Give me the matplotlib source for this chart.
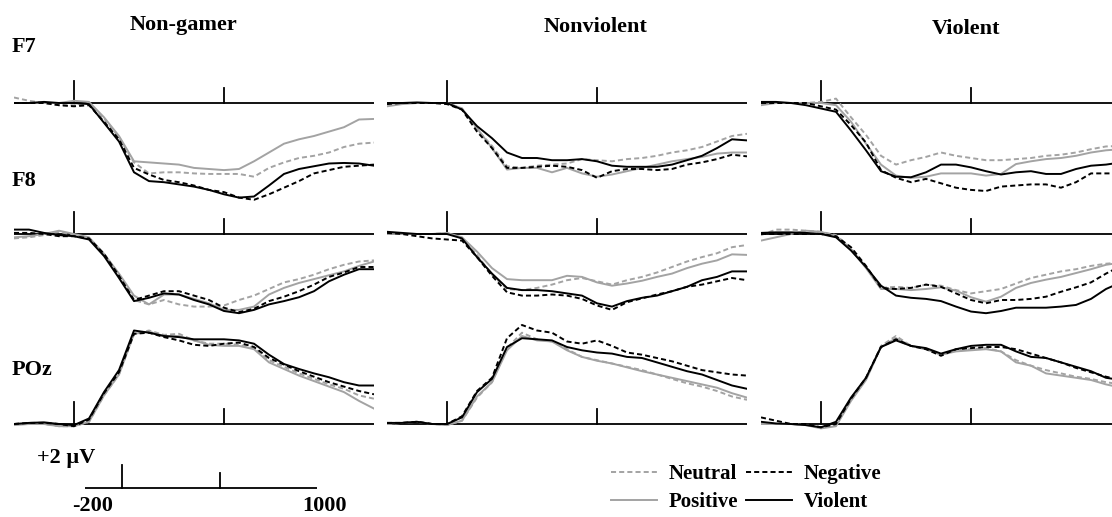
import matplotlib
matplotlib.use("Agg")
import matplotlib.pyplot as plt
from matplotlib.lines import Line2D

W, H = 1112, 517

# time axis (ms), sampled every 50 ms
times = list(range(-200, 1001, 50))

# amplitudes in microvolts
f7_nongamer_neutral = [0.5, 0.2, 0.0, -0.2, -0.2, 0.0, -1.4, -3.1, -5.4, -6.4, -6.3, -6.3, -6.4, -6.45, -6.45, -6.45, -6.7, -5.9, -5.4, -5.0, -4.8, -4.5, -4.0, -3.7, -3.6]
f7_nongamer_negative = [0.0, 0.0, 0.0, -0.2, -0.3, -0.2, -1.7, -3.3, -5.9, -6.5, -7.0, -7.2, -7.5, -7.9, -8.1, -8.6, -8.8, -8.3, -7.7, -7.1, -6.4, -6.1, -5.8, -5.7, -5.6]
f7_nongamer_positive = [0.0, 0.0, 0.0, 0.0, 0.2, 0.1, -1.3, -3.0, -5.3, -5.4, -5.5, -5.6, -5.9, -6.0, -6.1, -6.0, -5.3, -4.5, -3.7, -3.3, -3.0, -2.6, -2.2, -1.5, -1.45]
f7_nongamer_violent = [0.0, 0.0, 0.1, 0.0, 0.0, -0.1, -1.8, -3.5, -6.3, -7.1, -7.2, -7.4, -7.6, -7.9, -8.3, -8.6, -8.5, -7.5, -6.45, -6.0, -5.75, -5.5, -5.45, -5.5, -5.7]

f8_nongamer_neutral = [-0.4, -0.3, -0.1, 0.2, -0.1, -0.4, -1.8, -3.7, -6.0, -6.4, -6.0, -6.4, -6.6, -6.6, -6.5, -6.0, -5.6, -5.0, -4.4, -4.1, -3.7, -3.2, -2.8, -2.5, -2.4]
f8_nongamer_negative = [0.1, 0.1, 0.0, -0.2, -0.2, -0.4, -1.8, -3.8, -6.0, -5.6, -5.2, -5.2, -5.6, -6.0, -6.7, -7.1, -6.8, -6.1, -5.7, -5.2, -4.6, -3.9, -3.5, -3.0, -3.0]
f8_nongamer_positive = [-0.3, -0.2, 0.0, 0.3, 0.0, -0.3, -1.8, -3.6, -5.6, -6.4, -5.5, -5.5, -5.9, -6.3, -6.9, -6.9, -6.6, -5.5, -4.9, -4.45, -4.1, -3.75, -3.4, -2.9, -2.5]
f8_nongamer_violent = [0.4, 0.4, 0.1, -0.1, -0.2, -0.5, -2.0, -4.0, -6.1, -5.8, -5.4, -5.5, -6.0, -6.4, -7.0, -7.2, -6.9, -6.4, -6.1, -5.75, -5.2, -4.3, -3.7, -3.2, -3.2]

poz_nongamer_neutral = [0.0, 0.0, 0.0, -0.2, -0.2, 0.2, 2.6, 4.5, 8.2, 8.5, 8.1, 8.2, 7.6, 7.3, 7.3, 7.2, 6.9, 5.8, 5.2, 4.6, 4.1, 3.6, 3.2, 2.6, 2.3]
poz_nongamer_negative = [0.0, 0.1, 0.1, 0.0, -0.2, 0.4, 2.8, 4.7, 8.2, 8.3, 7.9, 7.6, 7.2, 7.1, 7.3, 7.4, 7.0, 6.0, 5.4, 4.8, 4.3, 3.8, 3.4, 3.0, 2.7]
poz_nongamer_positive = [-0.1, 0.0, 0.0, -0.2, -0.2, 0.2, 2.6, 4.5, 8.2, 8.4, 8.0, 8.0, 7.6, 7.2, 7.1, 7.1, 6.8, 5.6, 5.0, 4.4, 3.9, 3.4, 2.9, 2.1, 1.4]
poz_nongamer_violent = [0.0, 0.1, 0.15, 0.0, -0.1, 0.5, 2.9, 4.9, 8.5, 8.3, 8.0, 7.9, 7.7, 7.7, 7.7, 7.6, 7.3, 6.3, 5.45, 5.0, 4.6, 4.25, 3.8, 3.5, 3.5]

f7_nonviolent_neutral = [0.0, 0.0, 0.0, 0.0, 0.0, -0.5, -2.4, -3.9, -5.75, -5.9, -5.7, -5.6, -5.5, -5.1, -5.2, -5.3, -5.1, -5.0, -4.8, -4.5, -4.3, -4.0, -3.5, -3.0, -2.8]
f7_nonviolent_negative = [-0.1, 0.0, 0.0, 0.0, -0.1, -0.6, -2.6, -4.1, -5.9, -5.9, -5.8, -5.7, -5.8, -6.1, -6.8, -6.2, -6.0, -6.0, -6.1, -6.0, -5.6, -5.4, -5.1, -4.7, -4.85]
f7_nonviolent_positive = [-0.3, -0.1, 0.0, 0.0, 0.0, -0.5, -2.3, -4.1, -6.05, -5.9, -5.9, -6.3, -5.9, -6.4, -6.7, -6.5, -6.2, -5.9, -5.6, -5.3, -5.1, -4.9, -4.6, -4.5, -4.5]
f7_nonviolent_violent = [0.0, 0.0, 0.05, 0.0, 0.0, -0.6, -2.1, -3.2, -4.5, -5.0, -5.0, -5.2, -5.2, -5.1, -5.3, -5.7, -5.8, -5.8, -5.8, -5.6, -5.2, -4.8, -4.1, -3.3, -3.4]

f8_nonviolent_neutral = [0.0, 0.0, 0.0, 0.0, 0.1, -0.4, -1.9, -3.7, -5.0, -5.1, -4.9, -4.6, -4.2, -4.0, -4.3, -4.6, -4.2, -3.9, -3.5, -3.0, -2.5, -2.1, -1.75, -1.2, -1.0]
f8_nonviolent_negative = [0.1, 0.0, -0.2, -0.4, -0.5, -0.6, -2.1, -3.8, -5.3, -5.6, -5.6, -5.5, -5.6, -5.9, -6.5, -6.9, -6.2, -5.85, -5.5, -5.2, -4.8, -4.6, -4.3, -4.0, -4.2]
f8_nonviolent_positive = [0.0, 0.0, 0.0, 0.0, 0.1, -0.3, -1.6, -3.1, -4.1, -4.2, -4.2, -4.2, -3.8, -3.9, -4.4, -4.7, -4.5, -4.25, -3.9, -3.6, -3.1, -2.7, -2.4, -1.85, -1.9]
f8_nonviolent_violent = [0.2, 0.1, 0.0, 0.0, 0.0, -0.4, -2.1, -3.6, -4.9, -5.1, -5.1, -5.2, -5.4, -5.6, -6.3, -6.6, -6.1, -5.8, -5.6, -5.2, -4.8, -4.2, -3.9, -3.4, -3.4]

poz_nonviolent_neutral = [0.0, 0.1, 0.2, 0.0, -0.1, 0.3, 2.4, 3.8, 6.9, 8.3, 7.7, 7.5, 6.8, 6.1, 5.8, 5.5, 5.2, 4.9, 4.5, 4.1, 3.7, 3.4, 3.0, 2.5, 2.2]
poz_nonviolent_negative = [0.1, 0.1, 0.2, 0.0, 0.0, 0.7, 3.0, 4.2, 7.8, 9.0, 8.5, 8.3, 7.5, 7.3, 7.6, 7.1, 6.5, 6.3, 6.0, 5.7, 5.3, 4.9, 4.7, 4.5, 4.4]
poz_nonviolent_positive = [0.0, 0.1, 0.2, 0.0, -0.1, 0.3, 2.5, 3.8, 6.7, 8.0, 7.6, 7.5, 6.7, 6.1, 5.75, 5.5, 5.15, 4.8, 4.5, 4.2, 3.9, 3.6, 3.3, 2.8, 2.4]
poz_nonviolent_violent = [0.1, 0.1, 0.2, 0.0, 0.0, 0.6, 2.9, 4.1, 7.0, 7.8, 7.7, 7.6, 7.0, 6.7, 6.5, 6.4, 6.1, 6.0, 5.6, 5.2, 4.8, 4.5, 4.0, 3.5, 3.2]

f7_violent_neutral = [0.0, 0.0, 0.0, 0.0, 0.1, 0.4, -1.3, -2.9, -4.8, -5.6, -5.2, -4.9, -4.5, -4.8, -5.0, -5.2, -5.2, -5.1, -5.0, -4.8, -4.7, -4.5, -4.2, -3.95, -3.9]
f7_violent_negative = [0.0, 0.0, 0.0, 0.0, -0.3, -0.6, -2.0, -3.6, -6.1, -6.8, -7.2, -6.9, -7.3, -7.7, -7.9, -8.0, -7.6, -7.5, -7.4, -7.4, -7.7, -7.2, -6.4, -6.4, -6.4]
f7_violent_positive = [-0.2, 0.0, 0.0, 0.0, 0.0, -0.2, -1.7, -3.7, -5.6, -6.6, -6.8, -6.7, -6.4, -6.4, -6.4, -6.6, -6.45, -5.55, -5.3, -5.1, -5.0, -4.8, -4.5, -4.3, -4.2]
f7_violent_violent = [0.1, 0.1, 0.0, -0.2, -0.5, -0.8, -2.5, -4.3, -6.2, -6.7, -6.75, -6.3, -5.6, -5.6, -5.85, -6.2, -6.5, -6.3, -6.2, -6.45, -6.45, -6.0, -5.7, -5.6, -5.4]

f8_violent_neutral = [-0.1, 0.4, 0.4, 0.3, 0.2, -0.1, -1.3, -3.0, -4.9, -4.8, -4.9, -4.6, -4.7, -5.1, -5.4, -5.2, -5.0, -4.5, -4.0, -3.7, -3.4, -3.2, -2.9, -2.7, -2.6]
f8_violent_negative = [0.0, 0.0, 0.0, 0.0, 0.0, -0.2, -1.2, -2.9, -4.9, -5.0, -4.9, -4.6, -4.8, -5.4, -6.0, -6.3, -6.0, -6.0, -5.9, -5.7, -5.25, -4.85, -4.4, -3.6, -2.9]
f8_violent_positive = [-0.6, -0.3, 0.0, 0.3, 0.2, -0.2, -1.4, -3.1, -5.0, -5.0, -5.1, -5.0, -4.85, -5.15, -5.75, -6.15, -5.7, -4.9, -4.45, -4.15, -3.9, -3.55, -3.2, -2.8, -2.6]
f8_violent_violent = [0.1, 0.15, 0.15, 0.1, 0.0, -0.3, -1.5, -3.0, -4.7, -5.6, -5.8, -5.9, -6.1, -6.6, -7.05, -7.2, -7.0, -6.7, -6.7, -6.7, -6.6, -6.45, -5.9, -5.0, -4.4]

poz_violent_neutral = [0.0, 0.0, 0.0, -0.1, -0.3, -0.1, 2.2, 4.1, 7.1, 8.0, 7.1, 6.8, 6.3, 6.7, 6.8, 6.9, 6.6, 5.8, 5.3, 4.9, 4.6, 4.3, 4.1, 3.8, 3.6]
poz_violent_negative = [0.6, 0.3, 0.0, 0.0, -0.3, 0.0, 2.3, 4.2, 7.0, 7.7, 7.1, 6.8, 6.2, 6.8, 6.9, 7.0, 7.0, 6.8, 6.4, 6.0, 5.6, 5.1, 4.7, 4.3, 4.0]
poz_violent_positive = [0.0, 0.0, 0.0, -0.1, -0.4, -0.2, 2.1, 4.0, 7.0, 7.8, 7.1, 6.8, 6.3, 6.6, 6.7, 6.8, 6.6, 5.6, 5.3, 4.6, 4.4, 4.2, 4.0, 3.6, 3.3]
poz_violent_violent = [0.2, 0.05, 0.0, -0.1, -0.3, 0.2, 2.4, 4.2, 7.0, 7.6, 7.1, 6.9, 6.4, 6.8, 7.1, 7.2, 7.2, 6.6, 6.1, 6.0, 5.6, 5.2, 4.8, 4.2, 4.0]

groups = ["Non-gamer", "Nonviolent", "Violent"]
sites = ["F7", "F8", "POz"]
conditions = ["Neutral", "Positive", "Negative", "Violent"]

waves = {
    ("F7", 0): [f7_nongamer_neutral, f7_nongamer_positive, f7_nongamer_negative, f7_nongamer_violent],
    ("F8", 0): [f8_nongamer_neutral, f8_nongamer_positive, f8_nongamer_negative, f8_nongamer_violent],
    ("POz", 0): [poz_nongamer_neutral, poz_nongamer_positive, poz_nongamer_negative, poz_nongamer_violent],
    ("F7", 1): [f7_nonviolent_neutral, f7_nonviolent_positive, f7_nonviolent_negative, f7_nonviolent_violent],
    ("F8", 1): [f8_nonviolent_neutral, f8_nonviolent_positive, f8_nonviolent_negative, f8_nonviolent_violent],
    ("POz", 1): [poz_nonviolent_neutral, poz_nonviolent_positive, poz_nonviolent_negative, poz_nonviolent_violent],
    ("F7", 2): [f7_violent_neutral, f7_violent_positive, f7_violent_negative, f7_violent_violent],
    ("F8", 2): [f8_violent_neutral, f8_violent_positive, f8_violent_negative, f8_violent_violent],
    ("POz", 2): [poz_violent_neutral, poz_violent_positive, poz_violent_negative, poz_violent_violent],
}

GRAY = "#a3a3a3"
styles = {
    "Neutral": dict(color=GRAY, linestyle=(0, (2.6, 1.6))),
    "Positive": dict(color=GRAY, linestyle="-"),
    "Negative": dict(color="black", linestyle=(0, (2.6, 1.6))),
    "Violent": dict(color="black", linestyle="-"),
}
LW = 1.4
FONT = dict(family="Liberation Serif", weight="bold", size=16)

# layout in pixels
PX_PER_MS = 0.3
PX_PER_UV = 11.0
zero_x = [74, 447, 821]          # pixel x of t = 0 in each column
base_y = {"F7": 103, "F8": 234, "POz": 424}
ylims = {"F7": (-10, 3), "F8": (-10, 3), "POz": (-2, 10)}


def px_axes(left, top, width, height):
    return fig.add_axes([left / W, 1 - (top + height) / H, width / W, height / H])


fig = plt.figure(figsize=(W / 100, H / 100), dpi=100)

for c in range(3):
    for s in sites:
        ylo, yhi = ylims[s]
        left = zero_x[c] - 200 * PX_PER_MS
        top = base_y[s] - yhi * PX_PER_UV
        ax = px_axes(left, top, 1200 * PX_PER_MS, (yhi - ylo) * PX_PER_UV)
        ax.set_xlim(-200, 1000)
        ax.set_ylim(ylo, yhi)
        ax.axis("off")
        ax.patch.set_alpha(0)
        ax.plot([-200, 1000], [0, 0], color="black", lw=1.3)
        ax.plot([0, 0], [0, 2.0], color="black", lw=1.3)
        ax.plot([500, 500], [0, 1.4], color="black", lw=1.3)
        for cond, vals in zip(conditions, waves[(s, c)]):
            ax.plot(times, vals, lw=LW, **styles[cond])

# column titles and row labels
title_pos = [(183, 25), (596, 27), (966, 29)]
for g, (x, y) in zip(groups, title_pos):
    fig.text(x / W, 1 - y / H, g, ha="center", va="center", **FONT)
label_pos = {"F7": 47, "F8": 181, "POz": 370}
for s in sites:
    fig.text(12 / W, 1 - label_pos[s] / H, s, ha="left", va="center", **FONT)

# calibration bar
bar_left, bar_right = 85, 317
sb = px_axes(bar_left, 488 - 3 * PX_PER_UV, bar_right - bar_left, 4 * PX_PER_UV)
sb.set_xlim(-200, 1000)
sb.set_ylim(-1, 3)
sb.axis("off")
sb.patch.set_alpha(0)
sb.plot([-200, 1000], [0, 0], color="black", lw=1.3)
sb.plot([-10, -10], [0, 2.1], color="black", lw=1.3)
sb.plot([500, 500], [0, 1.4], color="black", lw=1.3)
fig.text(37 / W, 1 - 458 / H, "+2 \u00b5V", ha="left", va="center", **FONT)
fig.text(93 / W, 1 - 506 / H, "-200", ha="center", va="center", **FONT)
fig.text(324 / W, 1 - 506 / H, "1000", ha="center", va="center", **FONT)

# legend
handles = [Line2D([], [], lw=LW, **styles[c]) for c in conditions]
fig.legend(handles, conditions, ncol=2, loc="upper left",
           bbox_to_anchor=(611 / W, 1 - 464 / H), frameon=False,
           prop=dict(family="Liberation Serif", weight="bold", size=15),
           handlelength=2.2, handletextpad=0.55, columnspacing=0.4,
           labelspacing=0.4, borderpad=0, borderaxespad=0)

fig.savefig("out.png", dpi=100)
